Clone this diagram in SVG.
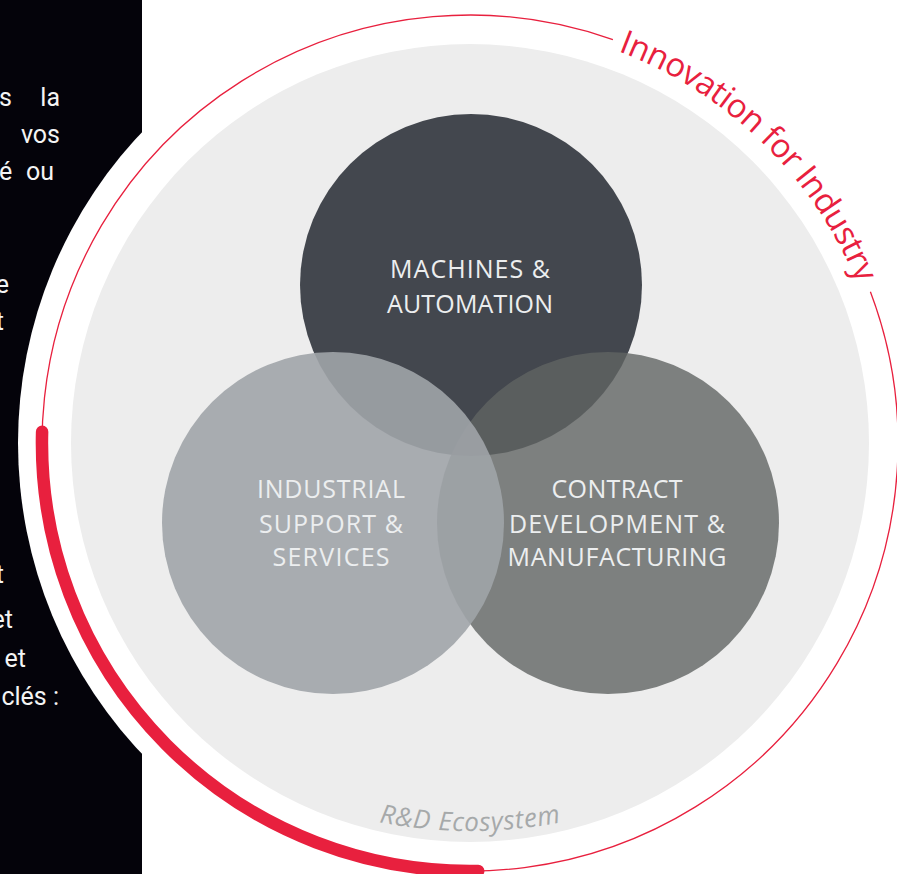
<svg xmlns="http://www.w3.org/2000/svg" xmlns:xlink="http://www.w3.org/1999/xlink" width="897" height="874" viewBox="0 0 897 874">
<style>
.side{font-family:Roboto,"Liberation Sans",sans-serif;font-size:25px;fill:#f4f4f4}
.lbl{font-family:"Open Sans","Noto Sans","Liberation Sans",sans-serif;font-size:25px;fill:#eceeef;text-anchor:middle}
.red{fill:none;stroke:#e8203e}
</style>
<defs>
<path id="arcTop" d="M618.1,51.1 A419,419 0 0 1 882.6,370.3"/>
<path id="arcBot" d="M-10,351 A480,480 0 0 0 950,351"/>
</defs>
<rect width="897" height="874" fill="#ffffff"/>
<rect x="0" y="0" width="142" height="874" fill="#04030a"/>
<g id="sidetext" class="side">
<text x="-1" y="106">s</text>
<text x="60" y="106" text-anchor="end">la</text>
<text x="60" y="143" text-anchor="end">vos</text>
<text x="-1" y="180">é</text>
<text x="54" y="180" text-anchor="end">ou</text>
<text x="9" y="293" text-anchor="end">e</text>
<text x="4" y="330" text-anchor="end">t</text>
<text x="4" y="583" text-anchor="end">t</text>
<text x="13" y="628" text-anchor="end">et</text>
<text x="26" y="667" text-anchor="end">et</text>
<text x="59" y="705" text-anchor="end">clés :</text>
</g>
<circle cx="470" cy="443" r="452" fill="#ffffff"/>
<g id="ring">
<path class="red" stroke-width="1.3" d="M870.4,291.7 A428,428 0 1 1 612.9,39.6"/>
<path class="red" stroke-width="12.5" stroke-linecap="round" d="M42.1,431.8 A428,428 0 0 0 478.2,870.9"/>
<text font-family="'Open Sans','Noto Sans',sans-serif" font-weight="400" font-size="33" fill="#e8203e"><textPath xlink:href="#arcTop" href="#arcTop" textLength="343">Innovation for Industry</textPath></text>
</g>
<g id="ecosystem">
<circle cx="470" cy="443" r="399" fill="#ededed"/>
<text font-family="'Open Sans','Noto Sans',sans-serif" font-style="italic" font-size="26" fill="#a6a9aa" text-anchor="middle"><textPath xlink:href="#arcBot" href="#arcBot" startOffset="50%" textLength="183">R&amp;D Ecosystem</textPath></text>
</g>
<g id="connectors"></g>
<g id="machines">
<circle cx="471" cy="285" r="171" fill="#43474e"/>
</g>
<g id="contract">
<circle cx="608" cy="523" r="171" fill="#606463" fill-opacity="0.8"/>
</g>
<g id="industrial">
<circle cx="333" cy="523" r="171" fill="#a0a4a8" fill-opacity="0.9"/>
</g>
<g id="labels" class="lbl">
<text x="470" y="278" textLength="160">MACHINES &amp;</text>
<text x="470" y="313" textLength="166">AUTOMATION</text>
<text x="331" y="498" textLength="148">INDUSTRIAL</text>
<text x="331" y="533" textLength="144">SUPPORT &amp;</text>
<text x="331" y="566" textLength="117">SERVICES</text>
<text x="617" y="498" textLength="131">CONTRACT</text>
<text x="617" y="533" textLength="216">DEVELOPMENT &amp;</text>
<text x="617" y="566" textLength="219">MANUFACTURING</text>
</g>
</svg>
